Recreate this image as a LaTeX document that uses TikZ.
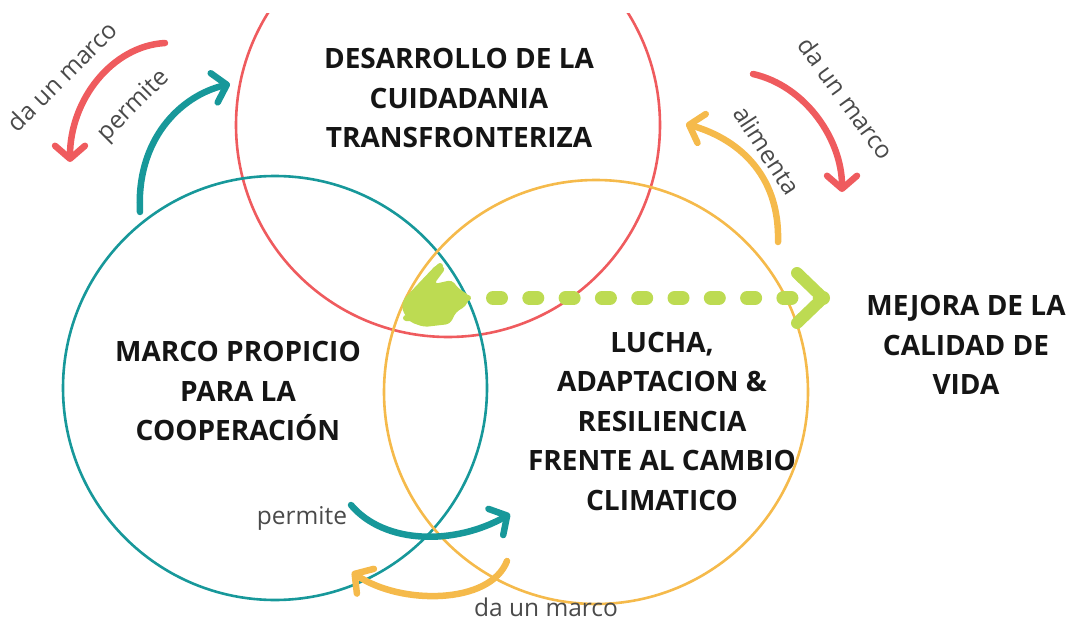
\documentclass[tikz,border=0pt]{standalone}
\usepackage{fontspec}
\setmainfont{Open Sans}
\usetikzlibrary{arrows.meta}
\definecolor{cred}{HTML}{EF5B5E}
\definecolor{cteal}{HTML}{17989A}
\definecolor{corange}{HTML}{F5BA4B}
\definecolor{cgreen}{HTML}{BDDB52}
\definecolor{ctext}{HTML}{151515}
\definecolor{clabel}{HTML}{4A4A4A}
\tikzset{
  ring/.style={line width=2.6pt},
  title/.style={font=\fontsize{28}{39.5}\selectfont\bfseries, text=ctext, align=center},
  lbl/.style={font=\fontsize{24.5}{28}\selectfont, text=clabel},
  flow/.style={line width=6.5pt, line cap=round,
     -{Straight Barb[length=13pt,width=30pt,round,line width=6.5pt]}},
}
\begin{document}
\begin{tikzpicture}[x=1pt,y=-1pt]
\useasboundingbox (0,0) rectangle (1080,626);
\begin{scope}
\clip (0,14) rectangle (1080,626);
% circles
\draw[ring, cred] (448,125) circle[radius=212];
\draw[ring, cteal] (275,388) circle[radius=212];
\draw[ring, corange] (596,392) circle[radius=212];
\end{scope}
% titles
\node[title] (ciud) at (459,98) {DESARROLLO DE LA\\CUIDADANIA\\TRANSFRONTERIZA};
\node[title] (marco) at (238,391) {MARCO PROPICIO\\PARA LA\\COOPERACIÓN};
\node[title] (lucha) at (662,421) {LUCHA,\\ADAPTACION \&\\RESILIENCIA\\FRENTE AL CAMBIO\\CLIMATICO};
\node[title] (mejora) at (966,345) {MEJORA DE LA\\CALIDAD DE\\VIDA};
% arrow end points
\coordinate (a1s) at (165,43);  \coordinate (a1e) at (70,162);
\coordinate (a2s) at (140,212); \coordinate (a2e) at (230,84);
\coordinate (a3s) at (753,74);  \coordinate (a3e) at (842,192);
\coordinate (a4s) at (778,242); \coordinate (a4e) at (686,124);
\coordinate (a5s) at (351,505); \coordinate (a5e) at (510,514);
\coordinate (a6s) at (507,561); \coordinate (a6e) at (352,572);
% arrows
\draw[flow, cred] (a1s) .. controls (112,46) and (70,100) .. (a1e);
\draw[flow, cteal] (a2s) .. controls (136,140) and (180,96) .. (a2e);
\draw[flow, cred] (a3s) .. controls (806,86) and (842,140) .. (a3e);
\draw[flow, corange] (a4s) .. controls (780,172) and (735,138) .. (a4e);
\draw[flow, cteal] (a5s) .. controls (385,545) and (455,545) .. (a5e);
\draw[flow, corange] (a6s) .. controls (490,605) and (400,605) .. (a6e);
% labels
\node[lbl, rotate=45] (l1) at (62,76) {da un marco};
\node[lbl, rotate=45] (l2) at (134,106) {permite};
\node[lbl, rotate=-54] (l3) at (846,98) {da un marco};
\node[lbl, rotate=-57] (l4) at (767,150) {alimenta};
\node[lbl] (l5) at (302,518) {permite};
\node[lbl] (l6) at (546,607) {da un marco};
% green scribble and dashed arrow
\coordinate (gs) at (493,298);
\coordinate (ge) at (823,298);
\fill[cgreen, rounded corners=4pt] (403,300) -- (418,284) -- (437,264) -- (446,268) -- (434,284) -- (452,280) -- (458,288) -- (470,296) -- (466,306) -- (456,312) -- (450,324) -- (424,327) -- (410,322) -- (402,310) -- cycle;
\draw[cgreen, line width=6pt, line cap=round] (440,266) -- (412,296) (406,318) -- (446,320) (436,290) -- (468,298);
\draw[cgreen, line width=14pt, line cap=round, dash pattern=on 8pt off 28.3pt] (gs) -- (ge);
\draw[cgreen, line width=12pt, line cap=round, line join=round] (797,273) -- (ge) -- (797,323);
\end{tikzpicture}
\end{document}
